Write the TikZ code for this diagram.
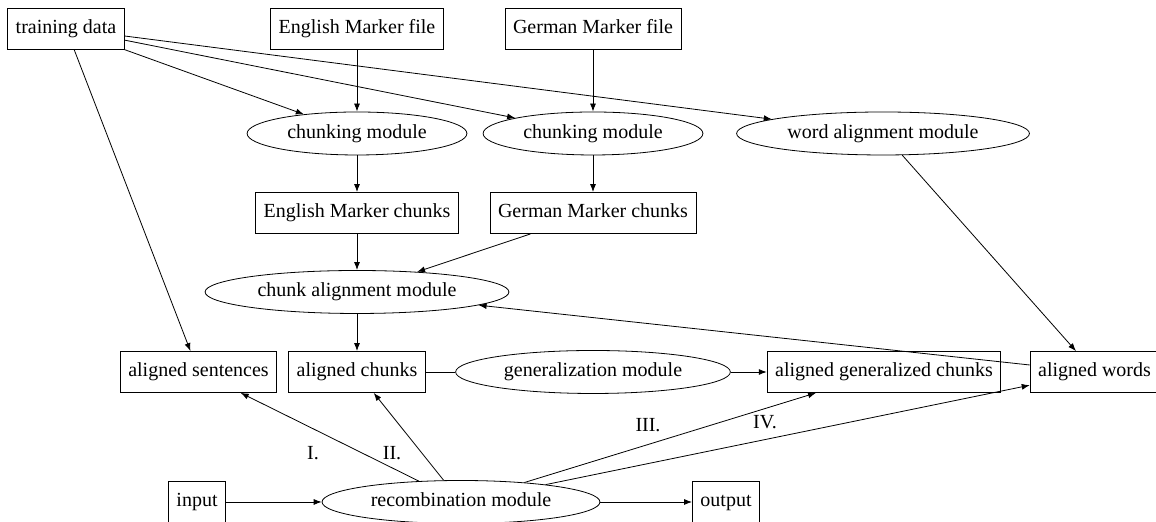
\documentclass[tikz,border=0pt]{standalone}
\usepackage{fontspec}
\setmainfont{Liberation Serif}
\usetikzlibrary{shapes.geometric, arrows.meta}

\begin{document}
\begin{tikzpicture}[x=0.5pt, y=0.5pt,
	box/.style={draw, rectangle, inner xsep=4pt, inner ysep=5.75pt, text height=7pt, text depth=2pt},
	module/.style={draw, ellipse, inner xsep=4pt, inner ysep=3.1pt, text height=7pt, text depth=2pt},
	link/.style={-{Latex[length=4pt, width=3pt]}}]
	\useasboundingbox (0,0) rectangle (1156,522);
	\clip (0,0) rectangle (1156,522);

	% sources
	\node [box] (train) at (66, 493.5) {training data};
	\node [box] (fileEn) at (357, 493.5) {English Marker file};
	\node [box] (fileDe) at (593, 493.5) {German Marker file};

	% chunking
	\node [module] (chunkEn) at (357, 388.5) {chunking module};
	\node [module] (chunkDe) at (593, 388.5) {chunking module};
	\node [module] (wordAlign) at (883, 388.5) {word alignment module};

	\node [box] (chunksEn) at (357, 309) {English Marker chunks};
	\node [box] (chunksDe) at (593, 309) {German Marker chunks};

	\node [module] (chunkAlign) at (357, 230) {chunk alignment module};

	% aligned material
	\node [box] (alSent) at (198.5, 150) {aligned sentences};
	\node [box] (alChunks) at (357, 150) {aligned chunks};
	\node [module] (general) at (593, 150) {generalization module};
	\node [box] (alGen) at (884, 150) {aligned generalized chunks};
	\node [box] (alWords) at (1094.5, 150) {aligned words};

	% recombination
	\node [box] (input) at (197, 20) {input};
	\node [module] (recomb) at (461, 20) {recombination module};
	\node [box] (output) at (726, 20) {output};

	\draw [link] (train) -- (chunkEn);
	\draw [link] (train) -- (chunkDe);
	\draw [link] (train) -- (wordAlign);
	\draw [link] (train) -- (alSent);
	\draw [link] (fileEn) -- (chunkEn);
	\draw [link] (fileDe) -- (chunkDe);
	\draw [link] (chunkEn) -- (chunksEn);
	\draw [link] (chunkDe) -- (chunksDe);
	\draw [link] (chunksEn) -- (chunkAlign);
	\draw [link] (chunksDe) -- (chunkAlign);
	\draw [link] (wordAlign) -- (alWords);
	\draw [link] (alWords) -- (chunkAlign);
	\draw [link] (chunkAlign) -- (alChunks);
	\draw (alChunks) -- (general);
	\draw [link] (general) -- (alGen);
	\draw [link] (input) -- (recomb);
	\draw [link] (recomb) -- (output);

	\draw [link] (recomb) -- (alSent);
	\draw [link] (recomb) -- (alChunks);
	\draw [link] (recomb) -- (alGen);
	\draw [link] (recomb) -- (alWords);
	\node (lblI) at (313, 69) {I.};
	\node (lblII) at (392, 69) {II.};
	\node (lblIII) at (648, 97) {III.};
	\node (lblIV) at (765, 100) {IV.};

\end{tikzpicture}
\end{document}
